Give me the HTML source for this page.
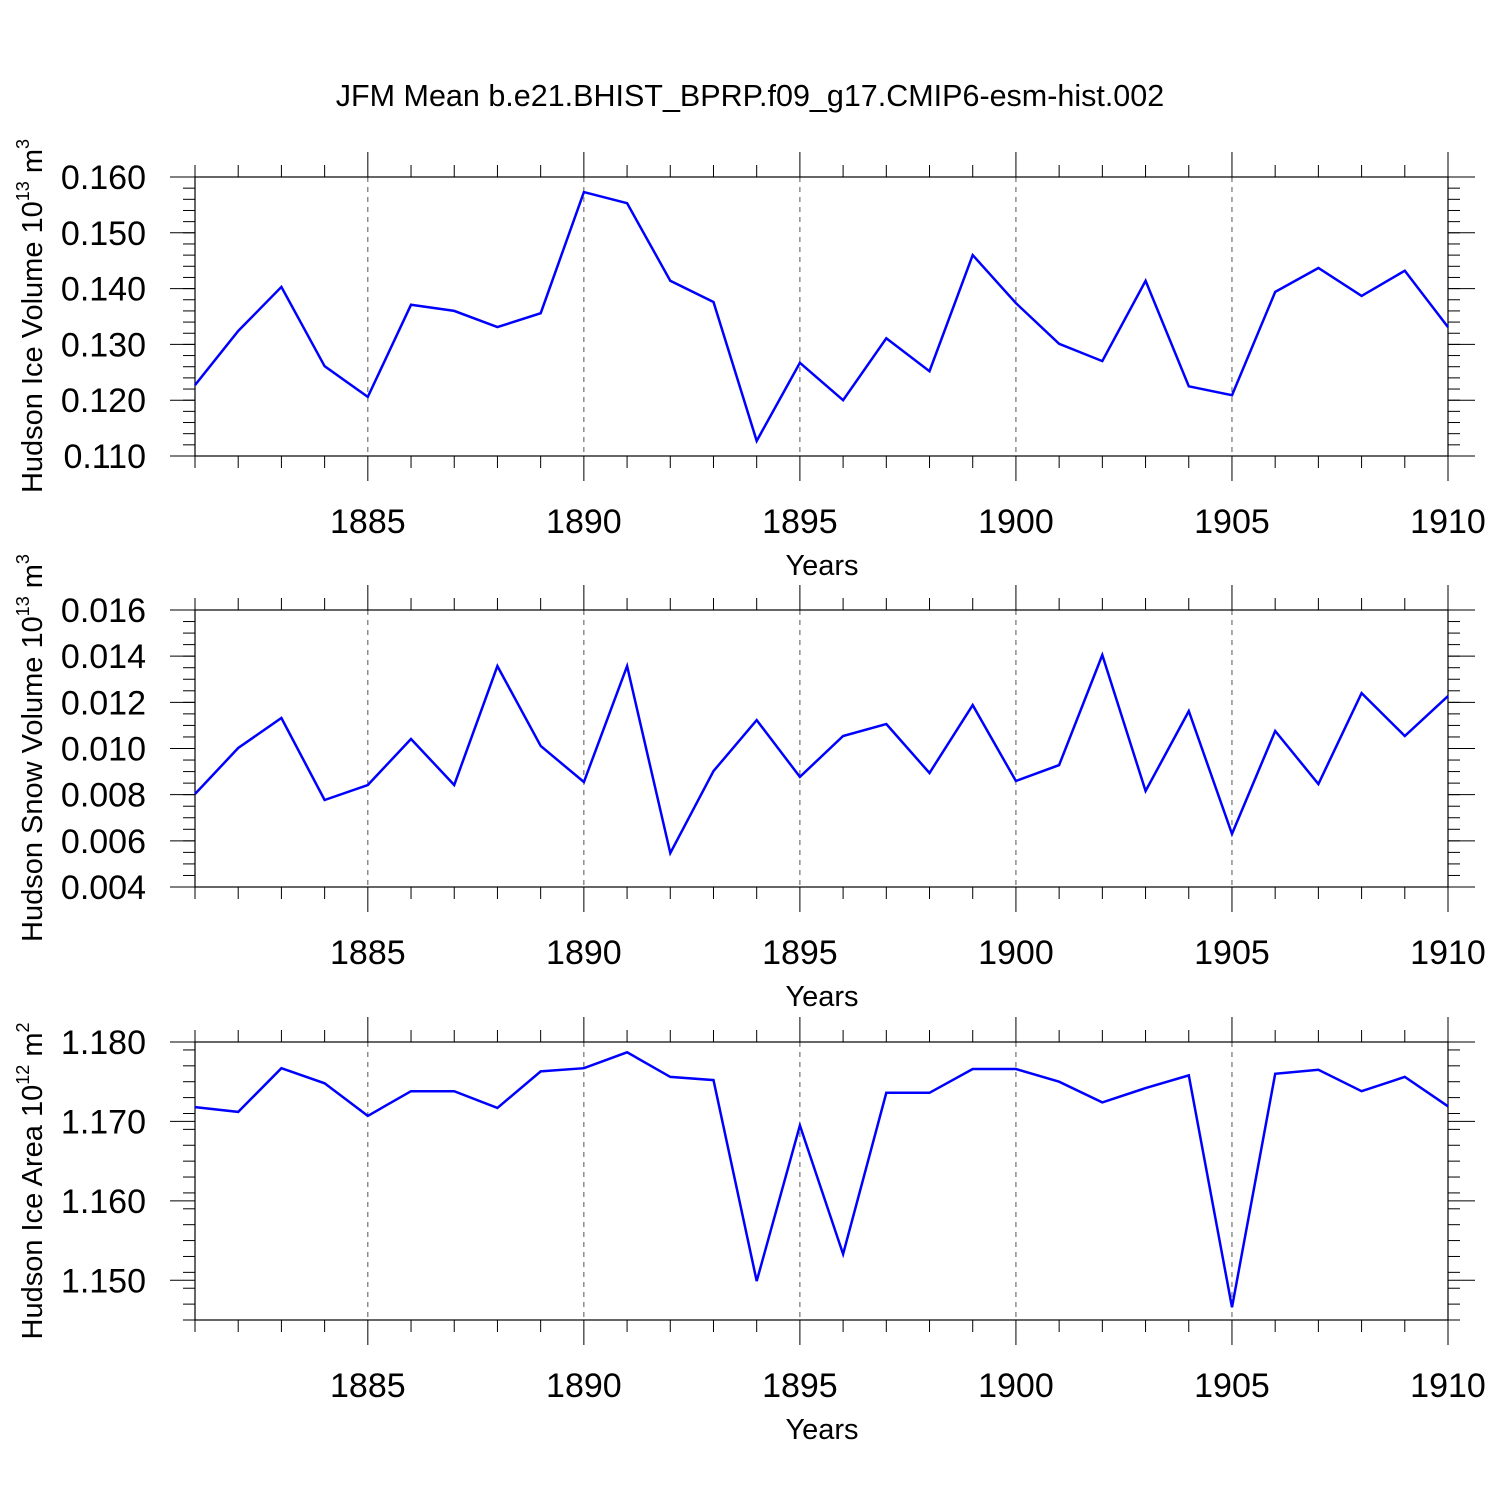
<!DOCTYPE html>
<html><head><meta charset="utf-8"><style>
html,body{margin:0;padding:0;background:#fff;}
svg{display:block;font-family:"Liberation Sans",sans-serif;}
</style></head><body>
<svg id="chart" width="1500" height="1500" viewBox="0 0 1500 1500" xmlns="http://www.w3.org/2000/svg">
<rect width="1500" height="1500" fill="#fff"/>
<text x="750" y="106" font-size="30.5" text-anchor="middle">JFM Mean b.e21.BHIST_BPRP.f09_g17.CMIP6-esm-hist.002</text>
</svg>
<script>
const years = [1881,1882,1883,1884,1885,1886,1887,1888,1889,1890,1891,1892,1893,1894,1895,1896,1897,1898,1899,1900,1901,1902,1903,1904,1905,1906,1907,1908,1909,1910];
const iceVolume = [0.1227,0.1324,0.1403,0.1261,0.1206,0.1371,0.1360,0.1331,0.1356,0.1573,0.1553,0.1414,0.1376,0.1127,0.1267,0.1200,0.1311,0.1252,0.1460,0.1374,0.1301,0.1270,0.1414,0.1225,0.1209,0.1394,0.1437,0.1387,0.1432,0.1331];
const snowVolume = [0.00803,0.01002,0.01132,0.00777,0.00842,0.01041,0.00842,0.01357,0.01011,0.00855,0.01357,0.00547,0.00902,0.01123,0.00877,0.01054,0.01106,0.00894,0.01188,0.00859,0.00928,0.01405,0.00816,0.01162,0.00630,0.01076,0.00846,0.01240,0.01054,0.01227];
const iceArea = [1.1718,1.1712,1.1767,1.1748,1.1707,1.1738,1.1738,1.1717,1.1763,1.1767,1.1787,1.1756,1.1752,1.1499,1.1695,1.1533,1.1736,1.1736,1.1766,1.1766,1.1750,1.1724,1.1742,1.1758,1.1466,1.1760,1.1765,1.1738,1.1756,1.1719];
const xTickLabels = [1885,1890,1895,1900,1905,1910];
const iceVolTicks = [0.110,0.120,0.130,0.140,0.150,0.160];
const snowTicks = [0.004,0.006,0.008,0.010,0.012,0.014,0.016];
const areaTicks = [1.150,1.160,1.170,1.180];

const NS="http://www.w3.org/2000/svg";
const svg=document.getElementById('chart');
function mk(tag,attrs,parent){const e=document.createElementNS(NS,tag);for(const k in attrs)e.setAttribute(k,attrs[k]);(parent||svg).appendChild(e);return e;}
const X0=195,X1=1448,YR0=1881,YR1=1910;
function xs(v){return X0+(v-YR0)/(YR1-YR0)*(X1-X0);}

function panel(cfg){
  const g=mk('g',{});
  
  
  const ys=v=>cfg.top+(cfg.max-v)/(cfg.max-cfg.min)*(cfg.bottom-cfg.top);
  xTickLabels.forEach(y=>{
    const l=mk('line',{x1:xs(y),x2:xs(y),y1:cfg.top,y2:cfg.bottom,stroke:'#555','stroke-width':1,'stroke-dasharray':'5,5'},g);
    
    
  });
  for(let y=YR0;y<=YR1;y++){
    const maj=(y%5===0), len=maj?25:12;
    mk('line',{x1:xs(y),x2:xs(y),y1:cfg.top-len,y2:cfg.top,stroke:'#000','stroke-width':1},g);
    mk('line',{x1:xs(y),x2:xs(y),y1:cfg.bottom,y2:cfg.bottom+len,stroke:'#000','stroke-width':1},g);
  }
  const nMin=Math.round((cfg.max-cfg.min)/cfg.minor);
  for(let i=0;i<=nMin;i++){
    const v=cfg.min+i*cfg.minor, y=ys(v);
    mk('line',{x1:X0-12,x2:X0,y1:y,y2:y,stroke:'#000','stroke-width':1},g);
    mk('line',{x1:X1,x2:X1+12,y1:y,y2:y,stroke:'#000','stroke-width':1},g);
  }
  cfg.ticks.forEach(v=>{
    const y=ys(v);
    mk('line',{x1:X0-25,x2:X0,y1:y,y2:y,stroke:'#000','stroke-width':1},g);
    mk('line',{x1:X1,x2:X1+27,y1:y,y2:y,stroke:'#000','stroke-width':1},g);
    const t=mk('text',{x:146,y:y+12,'font-size':34,'text-anchor':'end'},g);
    t.textContent=v.toFixed(3);
    
    
  });
  xTickLabels.forEach(y=>{
    const t=mk('text',{x:xs(y),y:cfg.bottom+77,'font-size':34,'text-anchor':'middle'},g);
    t.textContent=y;
    
    
  });
  const fr=mk('rect',{x:X0,y:cfg.top,width:X1-X0,height:cfg.bottom-cfg.top,fill:'none',stroke:'#000','stroke-width':1.2},g);
  
  
  const xt=mk('text',{x:822,y:cfg.bottom+119,'font-size':29,'text-anchor':'middle'},g);
  xt.textContent='Years';
  
  
  const yt=mk('text',{transform:`translate(42,${cfg.titleY}) rotate(-90)`,'font-size':29,'text-anchor':'middle'},g);
  yt.innerHTML=cfg.title+' 10<tspan font-size="18" dy="-13">'+cfg.exp+'</tspan><tspan dy="13"> m</tspan><tspan font-size="18" dy="-13">'+cfg.pow+'</tspan>';
  
  
  const pts=cfg.data.map((v,i)=>xs(years[i]).toFixed(1)+','+ys(v).toFixed(1)).join(' ');
  const pl=mk('polyline',{points:pts,fill:'none',stroke:'#0000ff','stroke-width':2.5,'stroke-linejoin':'miter'},g);
  
  
}
panel({name:'ice-volume',data:iceVolume,ticks:iceVolTicks,min:0.110,max:0.160,minor:0.002,top:177,bottom:456,title:'Hudson Ice Volume',exp:'13',pow:'3',titleY:316});
panel({name:'snow-volume',data:snowVolume,ticks:snowTicks,min:0.004,max:0.016,minor:0.0005,top:610,bottom:887,title:'Hudson Snow Volume',exp:'13',pow:'3',titleY:748});
panel({name:'ice-area',data:iceArea,ticks:areaTicks,min:1.145,max:1.180,minor:0.002,top:1042,bottom:1320,title:'Hudson Ice Area',exp:'12',pow:'2',titleY:1181});
</script>
</body></html>
